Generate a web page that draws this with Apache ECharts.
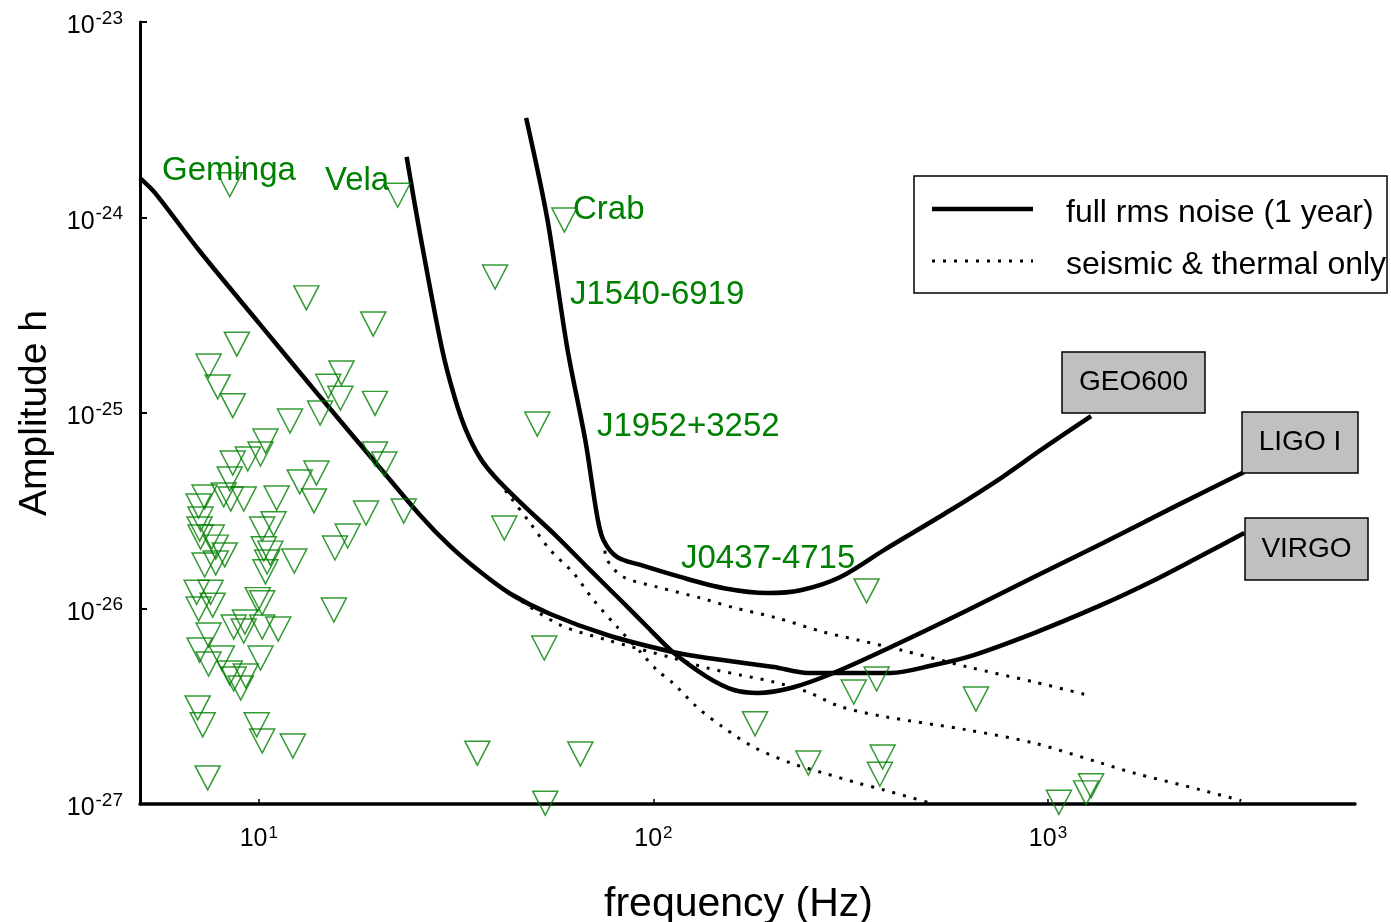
<!DOCTYPE html>
<html>
<head>
<meta charset="utf-8">
<script src="https://cdn.jsdelivr.net/npm/echarts@6/dist/echarts.min.js"></script>
<style>html,body{margin:0;padding:0;background:#fff}#c{width:1391px;height:922px}</style>
</head>
<body>
<div id="c"></div>
<script>
const FONT = '"Liberation Sans", Arial, sans-serif';

// tick positions (decades) on the frequency axis
const xTickValues = [10, 100, 1000];

// full rms noise curves [frequency Hz, amplitude h]
const virgoFull = [[5.0,1.59e-24],[5.45,1.34e-24],[7.08,6.74e-25],[10.06,2.85e-25],[14.3,1.21e-25],[20.3,5.23e-26],[25.6,3.01e-26],[30.5,2.09e-26],[36.4,1.54e-26],[43.4,1.19e-26],[54.8,9.37e-27],[76.4,7.32e-27],[112,5.99e-27],[137,5.58e-27],[202,5.02e-27],[246,4.68e-27],[316,4.68e-27],[400,4.68e-27],[514,5.14e-27],[627,5.65e-27],[922,7.49e-27],[1363,1.04e-26],[1826,1.37e-26],[2445,1.86e-26],[3144,2.43e-26]];
const ligoFull = [[23.7,2.04e-24],[25.6,8.33e-25],[29.1,2.15e-25],[31.4,1.19e-25],[33.5,8.18e-26],[36.4,5.89e-26],[39.7,4.71e-26],[46.8,3.38e-26],[57.1,2.32e-26],[69.2,1.57e-26],[83.9,1.07e-26],[98.3,7.76e-27],[112,5.99e-27],[137,4.46e-27],[160,3.83e-27],[184,3.70e-27],[223,3.92e-27],[286,4.68e-27],[400,6.35e-27],[627,9.82e-27],[922,1.45e-26],[1363,2.14e-26],[2088,3.31e-26],[3144,4.99e-26]];
const geoFull = [[47.6,3.23e-24],[53.8,9.94e-25],[60.5,2.15e-25],[67.2,7.28e-26],[72.1,2.94e-26],[74.7,2.24e-26],[81.0,1.83e-26],[92.7,1.67e-26],[117,1.45e-26],[151,1.27e-26],[195,1.20e-26],[236,1.24e-26],[298,1.45e-26],[384,1.99e-26],[567,3.19e-26],[760,4.65e-26],[960,6.47e-26],[1286,9.65e-26]];

// seismic & thermal only curves
const virgoST = [[5.0,1.59e-24],[5.45,1.34e-24],[7.08,6.74e-25],[10.06,2.85e-25],[14.3,1.21e-25],[20.3,5.23e-26],[25.6,3.01e-26],[30.5,2.09e-26],[36.4,1.54e-26],[43.4,1.19e-26],[58.1,8.23e-27],[76.4,6.90e-27],[112,5.58e-27],[137,4.96e-27],[166,4.57e-27],[202,4.21e-27],[246,3.74e-27],[298,3.15e-27],[384,2.80e-27],[627,2.39e-27],[922,2.05e-27],[1363,1.62e-27],[1653,1.44e-27],[2445,1.18e-27],[3089,1.04e-27]];
const ligoST = [[23.7,2.04e-24],[25.6,8.33e-25],[29.1,2.15e-25],[31.4,1.19e-25],[33.5,8.18e-26],[36.4,5.89e-26],[39.7,4.71e-26],[43.4,3.72e-26],[48.7,2.74e-26],[54.8,1.99e-26],[62.7,1.52e-26],[70.4,1.11e-26],[81.0,8.04e-27],[92.7,5.99e-27],[102,4.85e-27],[112,4.16e-27],[129,3.13e-27],[151,2.45e-27],[179,1.96e-27],[223,1.62e-27],[270,1.44e-27],[330,1.28e-27],[384,1.18e-27],[496,1.02e-27]];
const geoST = [[47.6,3.23e-24],[53.8,9.94e-25],[60.5,2.15e-25],[67.2,7.28e-26],[72.1,2.94e-26],[74.7,2.24e-26],[76.4,1.77e-26],[83.9,1.45e-26],[102,1.29e-26],[132,1.13e-26],[160,1.01e-26],[206,8.94e-27],[270,7.58e-27],[330,6.90e-27],[424,6.13e-27],[627,5.02e-27],[922,4.21e-27],[1286,3.57e-27]];

// pulsar upper limits [frequency Hz, amplitude h]
const pulsars = [
[8.44,1.47e-24],[22.5,1.30e-24],[59.5,9.7e-25],[39.7,4.96e-25],[13.2,3.88e-25],[19.5,2.85e-25],
[8.80,2.25e-25],[7.46,1.74e-25],[7.87,1.36e-25],[8.59,1.09e-25],[12.0,9.10e-26],[16.2,1.60e-25],
[15.0,1.37e-25],[16.1,1.19e-25],[14.3,1.00e-25],[19.7,1.12e-25],[50.8,8.78e-26],[10.4,7.19e-26],
[10.1,6.17e-26],[9.38,5.82e-26],[8.59,5.55e-26],[8.44,4.60e-26],[8.15,3.81e-26],[8.49,3.63e-26],
[9.16,3.63e-26],[7.29,3.72e-26],[7.04,3.34e-26],[7.12,2.87e-26],[7.08,2.55e-26],[7.12,2.32e-26],
[7.60,2.32e-26],[7.78,2.06e-26],[8.20,1.88e-26],[7.29,1.67e-26],[7.78,1.71e-26],[11.1,3.67e-26],
[12.7,4.44e-26],[14.0,4.93e-26],[13.8,3.55e-26],[19.7,6.17e-26],[20.8,5.48e-26],[18.7,3.08e-26],
[23.3,3.15e-26],[16.8,2.35e-26],[15.6,2.04e-26],[10.3,2.02e-26],[10.5,1.73e-26],[10.4,1.54e-26],
[12.3,1.75e-26],[6.96,1.21e-26],[7.55,1.21e-26],[7.04,9.94e-27],[7.64,1.04e-26],[9.94,1.11e-26],
[10.2,1.07e-26],[15.5,9.82e-27],[7.46,7.32e-27],[8.64,8.04e-27],[9.22,8.53e-27],[9.16,7.67e-27],
[10.2,8.04e-27],[11.2,7.85e-27],[7.08,6.13e-27],[7.46,5.20e-27],[8.06,5.58e-27],[8.44,4.68e-27],
[8.64,4.36e-27],[9.00,3.92e-27],[9.27,4.52e-27],[10.1,5.58e-27],[7.00,3.10e-27],[7.21,2.54e-27],
[9.88,2.54e-27],[10.2,2.10e-27],[12.2,1.98e-27],[7.42,1.36e-27],[41.9,2.58e-26],[52.9,6.28e-27],
[35.8,1.82e-27],[65.3,1.80e-27],[53.2,1.01e-27],[347,1.23e-26],[181,2.57e-27],[247,1.62e-27],
[322,3.74e-27],[368,4.36e-27],[381,1.74e-27],[375,1.42e-27],[657,3.44e-27],[1066,1.02e-27],
[1249,1.14e-27],[1286,1.24e-27],[10.9,2.71e-26],[10.2,2.55e-26],[10.7,1.92e-26]
];

const pulsarLabels = ['Geminga', 'Vela', 'Crab', 'J1540-6919', 'J1952+3252', 'J0437-4715'];
const detectorLabels = ['GEO600', 'LIGO I', 'VIRGO'];
const legendNames = ['full rms noise (1 year)', 'seismic & thermal only'];

// amplitude axis range
const hMin = 1e-27, hMax = 1e-23;

// The log scale loses precision with numbers as small as 1e-27, so amplitudes are
// handed to ECharts in units of hMin; labels convert back to powers of ten of h.
const H_EXP = Math.round(Math.log10(hMin));
const toUnits = arr => arr.map(p => [p[0], p[1] / hMin]);

const chart = echarts.init(document.getElementById('c'), null, {renderer: 'canvas'});

function decadeLabel(offset) {
  return function (v) {
    const l = Math.log10(v);
    const e = Math.round(l);
    if (!isFinite(l) || Math.abs(l - e) > 1e-6) return '';
    return '{b|10}{s|' + (e + offset) + '}';
  };
}

const solidStyle = {color: '#000', width: 4.5};
const dotStyle = {color: '#000', width: 3, type: [3, 8]};

function lineSeries(name, data, style, z) {
  return {name: name, type: 'line', data: toUnits(data), symbol: 'none', smooth: 0.3,
          lineStyle: style, itemStyle: {color: '#000'}, z: z, silent: true, clip: false};
}

const green = '#008000';
function txt(text, x, y, size, color, align) {
  return {type: 'text', x: x, y: y, z: 20,
          style: {text: text, fontSize: size, fontFamily: FONT, fill: color,
                  textAlign: align || 'left', textVerticalAlign: 'middle'}};
}
function box(x, y, w, h, label) {
  return [
    {type: 'rect', z: 19, shape: {x: x, y: y, width: w, height: h},
     style: {fill: '#c0c0c0', stroke: '#000', lineWidth: 1.5}},
    txt(label, x + w / 2, y + h / 2, 28, '#000', 'center')
  ];
}
function legendRow(y, name, style) {
  return [
    {type: 'line', z: 20, shape: {x1: 932, y1: y, x2: 1033, y2: y},
     style: {stroke: style.color, lineWidth: style.width, lineDash: Array.isArray(style.type) ? style.type : null}},
    txt(name, 1066, y + 4, 32, '#000')
  ];
}

const option = {
  animation: false,
  backgroundColor: '#fff',
  grid: {left: 140, top: 22, width: 1215, height: 782, containLabel: false, outerBoundsMode: 'none'},
  xAxis: {
    type: 'log', logBase: 10, min: 5, max: 6000,
    name: 'frequency (Hz)', nameLocation: 'middle', nameGap: 80, nameMoveOverlap: false,
    nameTextStyle: {fontSize: 41, fontFamily: FONT, color: '#000', padding: [0, 18, 0, 0]},
    axisLine: {show: true, onZero: false, lineStyle: {color: '#000', width: 3.5}},
    axisTick: {show: true, inside: true, length: 5, lineStyle: {color: '#000', width: 1.5}, customValues: xTickValues},
    axisLabel: {show: true, margin: 20, formatter: decadeLabel(0), customValues: xTickValues,
      rich: {b: {fontSize: 25, fontFamily: FONT, color: '#000', lineHeight: 28, verticalAlign: 'bottom'},
             s: {fontSize: 17, fontFamily: FONT, color: '#000', lineHeight: 28, verticalAlign: 'top', padding: [1, 0, 0, 1]}}},
    splitLine: {show: false}, minorTick: {show: false}
  },
  yAxis: {
    type: 'log', logBase: 10, min: hMin / hMin, max: hMax / hMin,
    name: 'Amplitude h', nameLocation: 'middle', nameGap: 85, nameMoveOverlap: false,
    nameTextStyle: {fontSize: 39, fontFamily: FONT, color: '#000'},
    axisLine: {show: true, onZero: false, lineStyle: {color: '#000', width: 3}},
    axisTick: {show: true, inside: true, length: 7, lineStyle: {color: '#000', width: 2}},
    axisLabel: {show: true, margin: 17, formatter: decadeLabel(H_EXP), showMinLabel: true, showMaxLabel: true, padding: [4, 0, 0, 0],
      rich: {b: {fontSize: 25, fontFamily: FONT, color: '#000', lineHeight: 30, verticalAlign: 'bottom'},
             s: {fontSize: 19, fontFamily: FONT, color: '#000', lineHeight: 30, verticalAlign: 'top', padding: [0, 0, 0, 1]}}},
    splitLine: {show: false}, minorTick: {show: false}
  },
  series: [
    lineSeries(legendNames[1], virgoST, dotStyle, 2),
    lineSeries(legendNames[1], ligoST, dotStyle, 2),
    lineSeries(legendNames[1], geoST, dotStyle, 2),
    lineSeries(legendNames[0], virgoFull, solidStyle, 3),
    lineSeries(legendNames[0], ligoFull, solidStyle, 3),
    lineSeries(legendNames[0], geoFull, solidStyle, 3),
    {name: 'pulsars', type: 'scatter', data: toUnits(pulsars), symbol: 'triangle', symbolRotate: 180,
     symbolSize: [25, 24], clip: false, z: 5, silent: true,
     itemStyle: {color: 'rgba(0,0,0,0)', borderColor: green, borderWidth: 1.5}}
  ],
  graphic: [
    {type: 'rect', z: 19, shape: {x: 914, y: 176, width: 473, height: 117},
     style: {fill: '#fff', stroke: '#000', lineWidth: 1.5}},
    txt(pulsarLabels[0], 162, 171, 33, green),
    txt(pulsarLabels[1], 325, 181, 33, green),
    txt(pulsarLabels[2], 573, 210, 33, green),
    txt(pulsarLabels[3], 570, 295, 33, green),
    txt(pulsarLabels[4], 597, 427, 33, green),
    txt(pulsarLabels[5], 681, 559, 33, green)
  ].concat(legendRow(209, legendNames[0], solidStyle))
   .concat(legendRow(261, legendNames[1], dotStyle))
   .concat(box(1062, 352, 143, 61, detectorLabels[0]))
   .concat(box(1242, 412, 116, 61, detectorLabels[1]))
   .concat(box(1245, 518, 123, 62, detectorLabels[2]))
};
chart.setOption(option);
</script>
</body>
</html>
